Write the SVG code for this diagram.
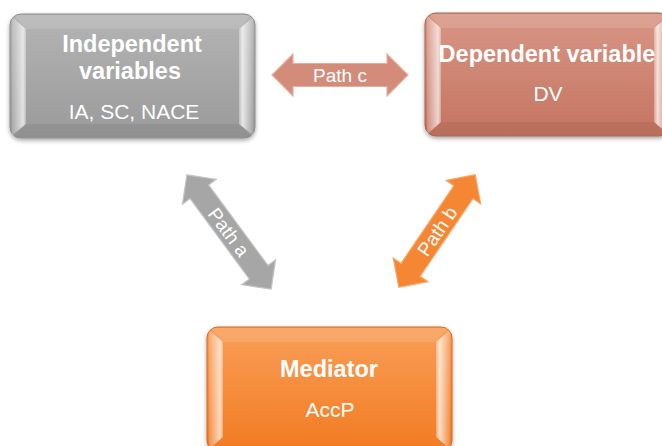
<svg xmlns="http://www.w3.org/2000/svg" width="662" height="446" viewBox="0 0 662 446">
<style>
.b{font-family:"Liberation Sans",Arial,sans-serif;font-weight:bold;font-size:23.5px;fill:#fff;text-anchor:middle}
.r{font-family:"Liberation Sans",Arial,sans-serif;font-size:21px;fill:#fff;text-anchor:middle}
.p{font-family:"Liberation Sans",Arial,sans-serif;font-size:19px;fill:#fff;text-anchor:middle}
</style>
<defs>
<filter id="sh" x="-10%" y="-10%" width="120%" height="130%"><feDropShadow dx="0" dy="2" stdDeviation="2" flood-color="#000" flood-opacity="0.35"/></filter>
<linearGradient id="gG" x1="0" y1="0" x2="0" y2="1"><stop offset="0" stop-color="#B4B4B4"/><stop offset="1" stop-color="#9A9A9A"/></linearGradient>
<linearGradient id="gS" x1="0" y1="0" x2="0" y2="1"><stop offset="0" stop-color="#D89685"/><stop offset="1" stop-color="#C47461"/></linearGradient>
<linearGradient id="gO" x1="0" y1="0" x2="0" y2="1"><stop offset="0" stop-color="#F99E58"/><stop offset="1" stop-color="#F27B22"/></linearGradient>
<linearGradient id="hl" x1="0" y1="0" x2="1" y2="0"><stop offset="0" stop-color="#fff" stop-opacity="0.15"/><stop offset="0.8" stop-color="#fff" stop-opacity="0.7"/><stop offset="1" stop-color="#fff" stop-opacity="0.3"/></linearGradient>
<linearGradient id="hr" x1="0" y1="0" x2="1" y2="0"><stop offset="0" stop-color="#fff" stop-opacity="0.3"/><stop offset="0.25" stop-color="#fff" stop-opacity="0.75"/><stop offset="1" stop-color="#fff" stop-opacity="0.1"/></linearGradient>
</defs>

<g id="node-independent">
<rect x="10" y="14" width="245" height="124" rx="11" fill="url(#gG)" stroke="#8C8C8C" stroke-width="1" filter="url(#sh)"/>
<polygon points="12,17 26,29 26,124 12,135" fill="url(#hl)"/>
<polygon points="253,17 239,29 239,124 253,135" fill="url(#hr)"/>
<polygon points="14,15 251,15 239,29 26,29" fill="#fff" fill-opacity="0.12"/>
<polygon points="26,124 239,124 252,137 13,137" fill="#000" fill-opacity="0.06"/>
<text class="b" x="132" y="52">Independent</text>
<text class="b" x="130" y="79">variables</text>
<text class="r" x="134" y="119">IA, SC, NACE</text>
</g>

<g id="node-dependent">
<rect x="425" y="13" width="245" height="123" rx="11" fill="url(#gS)" stroke="#A9604F" stroke-width="1" filter="url(#sh)"/>
<polygon points="427,16 441,28 441,122 427,134" fill="url(#hl)"/>
<polygon points="668,16 654,28 654,122 668,134" fill="url(#hr)"/>
<polygon points="429,14 666,14 654,28 441,28" fill="#fff" fill-opacity="0.12"/>
<polygon points="441,122 654,122 667,135 428,135" fill="#000" fill-opacity="0.06"/>
<text class="b" x="547" y="62">Dependent variable</text>
<text class="r" x="548" y="101">DV</text>
</g>

<g id="node-mediator">
<rect x="207" y="327" width="245" height="124" rx="11" fill="url(#gO)" stroke="#D06A1E" stroke-width="1" filter="url(#sh)"/>
<polygon points="209,330 223,342 223,437 209,449" fill="url(#hl)"/>
<polygon points="450,330 436,342 436,437 450,449" fill="url(#hr)"/>
<polygon points="211,328 448,328 436,342 223,342" fill="#fff" fill-opacity="0.12"/>
<text class="b" x="329" y="377">Mediator</text>
<text class="r" x="330" y="417">AccP</text>
</g>

<g id="connectors">
<g id="path-c" transform="translate(340,75)">
<polygon points="-68,0 -47,-21 -47,-11.5 47,-11.5 47,-21 68,0 47,21 47,11.5 -47,11.5 -47,21" fill="#D38C7A" stroke="#E4AE9F" stroke-width="1.2"/>
<text class="p" x="0" y="7">Path c</text>
</g>
<g id="path-a" transform="translate(229,232) rotate(53.6)">
<polygon points="-71,0 -50,-21 -50,-11.5 50,-11.5 50,-21 71,0 50,21 50,11.5 -50,11.5 -50,21" fill="#A6A6A6" stroke="#C4C4C4" stroke-width="1.2"/>
<text class="p" x="0" y="7">Path a</text>
</g>
<g id="path-b" transform="translate(437,231) rotate(-55.8)">
<polygon points="-68,0 -47,-21 -47,-11.5 47,-11.5 47,-21 68,0 47,21 47,11.5 -47,11.5 -47,21" fill="#F58633" stroke="#F9A867" stroke-width="1.2"/>
<text class="p" x="0" y="7">Path b</text>
</g>
</g>
</svg>
